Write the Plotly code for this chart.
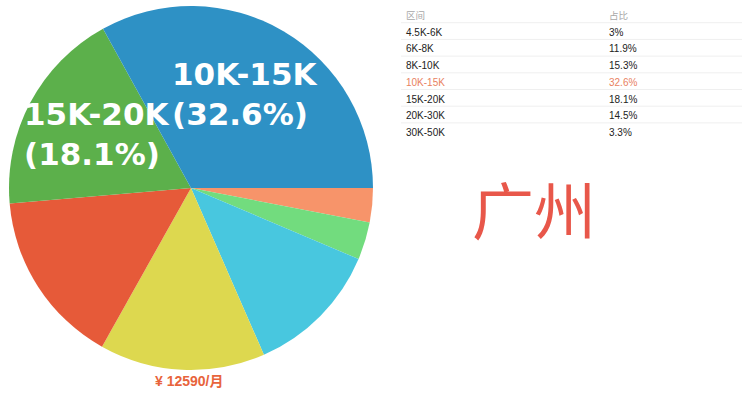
import plotly.graph_objects as go

# Salary bands and their shares (%)
ranges = ["4.5K-6K", "6K-8K", "8K-10K", "10K-15K", "15K-20K", "20K-30K", "30K-50K"]
shares = [3, 11.9, 15.3, 32.6, 18.1, 14.5, 3.3]
slice_colors = ["#F7946A", "#48C7DF", "#E65A39", "#2E91C5", "#5CB04B", "#DDD84F", "#72DC7E"]

# Bands whose names are written on the pie
labelled = ["10K-15K", "15K-20K"]
highlight = "10K-15K"

city = "广州"
avg_salary = 12590

header_labels = ["区间", "占比"]

W, H = 750, 397
accent = "#E9825F"

# Pie slices run clockwise from 3 o'clock, smallest share first
order = sorted(range(len(shares)), key=lambda i: shares[i])

fig = go.Figure()

fig.add_trace(go.Pie(
    labels=[ranges[i] for i in order],
    values=[shares[i] for i in order],
    marker=dict(colors=[slice_colors[i] for i in order], line=dict(width=0)),
    sort=False,
    direction="clockwise",
    rotation=90,
    textinfo="none",
    domain=dict(x=[9 / W, 373 / W], y=[(H - 370) / H, (H - 6) / H]),
    showlegend=False,
))

# Table geometry (pixels)
tbl_left, tbl_right = 398, 742
tbl_top = 3.5
row_h = 16.7
n_rows = len(ranges) + 1
tbl_bottom = tbl_top + n_rows * row_h

row_colors = [accent if r == highlight else "#222222" for r in ranges]
fig.add_trace(go.Table(
    domain=dict(x=[tbl_left / W, tbl_right / W], y=[1 - tbl_bottom / H, 1 - tbl_top / H]),
    columnwidth=[203, 141],
    header=dict(
        values=header_labels,
        align="left",
        height=row_h,
        fill_color="white",
        line=dict(color="white", width=0),
        font=dict(family="Noto Sans CJK SC", size=9.5, color="#a8a8a8"),
    ),
    cells=dict(
        values=[ranges, [f"{v:g}%" for v in shares]],
        align="left",
        height=row_h,
        fill_color="white",
        line=dict(color="white", width=0),
        font=dict(family="Liberation Sans, Arial", size=10, color=[row_colors, row_colors]),
    ),
))

# Faint separators between table rows
for k in range(1, n_rows):
    yk = tbl_top + k * row_h + 2.5
    fig.add_shape(
        type="line", xref="paper", yref="paper",
        x0=(tbl_left + 3) / W, x1=tbl_right / W, y0=1 - yk / H, y1=1 - yk / H,
        line=dict(color="#efefef", width=1),
    )

# In-slice labels for the two largest bands
label_pos = {"10K-15K": (170, 94), "15K-20K": (22, 134)}
for name in labelled:
    v = shares[ranges.index(name)]
    x, y = label_pos[name]
    fig.add_annotation(
        x=x / W, y=1 - y / H, xref="paper", yref="paper",
        xanchor="left", yanchor="middle", align="left",
        text=f"{name}<br>({v:g}%)", showarrow=False,
        font=dict(family="DejaVu Sans", size=31, color="white", weight="bold"),
    )

fig.add_annotation(
    x=470 / W, y=1 - 208 / H, xref="paper", yref="paper",
    xanchor="left", yanchor="middle", align="left",
    text=city, showarrow=False,
    font=dict(family="Noto Sans CJK SC", size=62, color="#E8574A"),
)

fig.add_annotation(
    x=153 / W, y=1 - 381 / H, xref="paper", yref="paper",
    xanchor="left", yanchor="middle", align="left",
    text=f"¥ {avg_salary}/月", showarrow=False,
    font=dict(family="Liberation Sans, Noto Sans CJK SC", size=14, color="#E8643C", weight="bold"),
)

fig.update_layout(
    width=W, height=H,
    margin=dict(l=0, r=0, t=0, b=0),
    paper_bgcolor="white",
    plot_bgcolor="white",
)

fig.write_html("out.html")
